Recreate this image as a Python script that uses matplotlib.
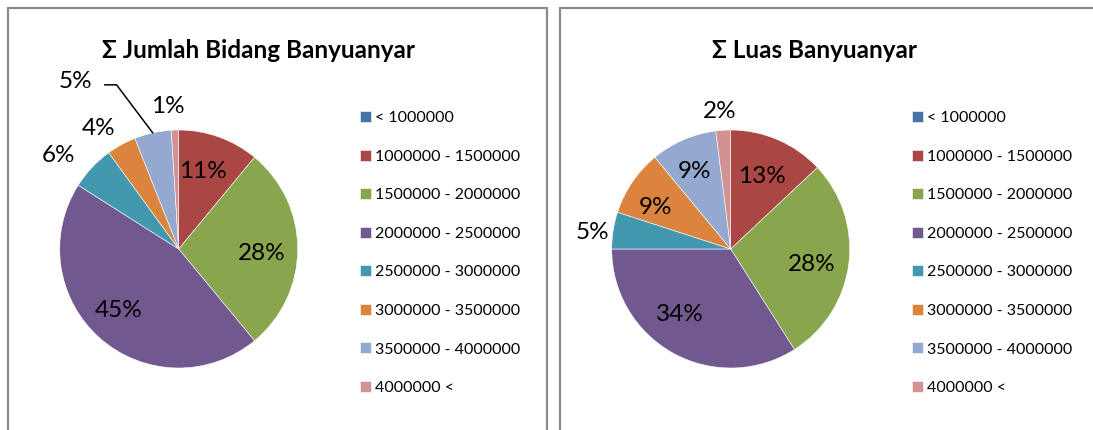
import math
import matplotlib.pyplot as plt
from matplotlib.patches import Rectangle

plt.rcParams['font.family'] = ['Lato', 'DejaVu Sans']

# data
categories = ['< 1000000', '1000000 - 1500000', '1500000 - 2000000',
              '2000000 - 2500000', '2500000 - 3000000', '3000000 - 3500000',
              '3500000 - 4000000', '4000000 <']
bidang_pct = [0, 11, 28, 45, 6, 4, 5, 1]
luas_pct = [0, 13, 28, 34, 5, 9, 9, 2]
titles = ['\u03a3 Jumlah Bidang Banyuanyar', '\u03a3 Luas Banyuanyar']

colors = ['#4572A7', '#AA4643', '#89A54E', '#71588F',
          '#4198AF', '#DB843D', '#93A9CF', '#D19392']

# label placement: distance from centre (pie radii) and clockwise angle shift (deg)
bidang_dist = [None, 0.68, 0.70, 0.72, 1.28, 1.22, 'leader', 1.2]
bidang_shift = [0, -2.3, 2.8, 3.0, -5.5, -4.9, 0, -2.5]
luas_dist = [None, 0.66, 0.69, 0.70, 1.17, 0.72, 0.72, 1.16]
luas_shift = [0, -0.3, 3.8, 8.9, -2.3, -5.6, -1.3, -0.8]
leader_offset = (-0.51, 0.43)

W, H = 1093, 430
fig = plt.figure(figsize=(W / 100, H / 100), dpi=100)

# chart frames
for x0, x1 in [(8, 547), (560, 1100)]:
    fig.patches.append(Rectangle((x0 / W, -0.1), (x1 - x0) / W, 1.1 - 8 / H,
                                 transform=fig.transFigure, fill=False,
                                 edgecolor='#8a8a8a', linewidth=1.6))


def draw_pie(cx, cy, r, values, dists, shifts, title, title_x, legend_x):
    ax = fig.add_axes([(cx - r) / W, (H - cy - r) / H, 2 * r / W, 2 * r / H])
    wedges, _ = ax.pie(values, colors=colors, startangle=90, counterclock=False,
                       radius=1, wedgeprops=dict(edgecolor='white', linewidth=0.4))
    ax.set_xlim(-1, 1)
    ax.set_ylim(-1, 1)
    ax.axis('off')
    total = sum(values)
    cum = 0
    for v, d, s in zip(values, dists, shifts):
        mid = 90 - 360 * (cum + v / 2) / total
        cum += v
        if v == 0 or d is None:
            continue
        txt = f'{round(100 * v / total)}%'
        if d == 'leader':
            a = math.radians(mid)
            ex, ey = math.cos(a), math.sin(a)
            ax.annotate(txt, xy=(ex, ey),
                        xytext=(ex + leader_offset[0], ey + leader_offset[1]),
                        ha='right', va='center', fontsize=17.5,
                        arrowprops=dict(arrowstyle='-', color='black', lw=1.1,
                                        relpos=(1, 0.35), shrinkA=7, shrinkB=0,
                                        connectionstyle='angle,angleA=0,angleB=127,rad=0'))
        else:
            a = math.radians(mid - s)
            ax.text(d * math.cos(a), d * math.sin(a), txt, ha='center',
                    va='center', fontsize=17.5)
    fig.text(title_x / W, 1 - 50 / H, title, ha='center', va='center',
             fontsize=17.5, fontweight='bold')
    fig.legend(wedges, categories, loc='upper left',
               bbox_to_anchor=(legend_x / W, 1 - 111 / H), frameon=False,
               fontsize=11.5, borderpad=0, borderaxespad=0, handlelength=0.69,
               handleheight=0.69, handletextpad=0.25, labelspacing=1.53)


draw_pie(178.7, 249, 119, bidang_pct, bidang_dist, bidang_shift, titles[0], 259, 360)
draw_pie(730.7, 249, 119, luas_pct, luas_dist, luas_shift, titles[1], 814, 912)

fig.savefig('out.png', dpi=100)
